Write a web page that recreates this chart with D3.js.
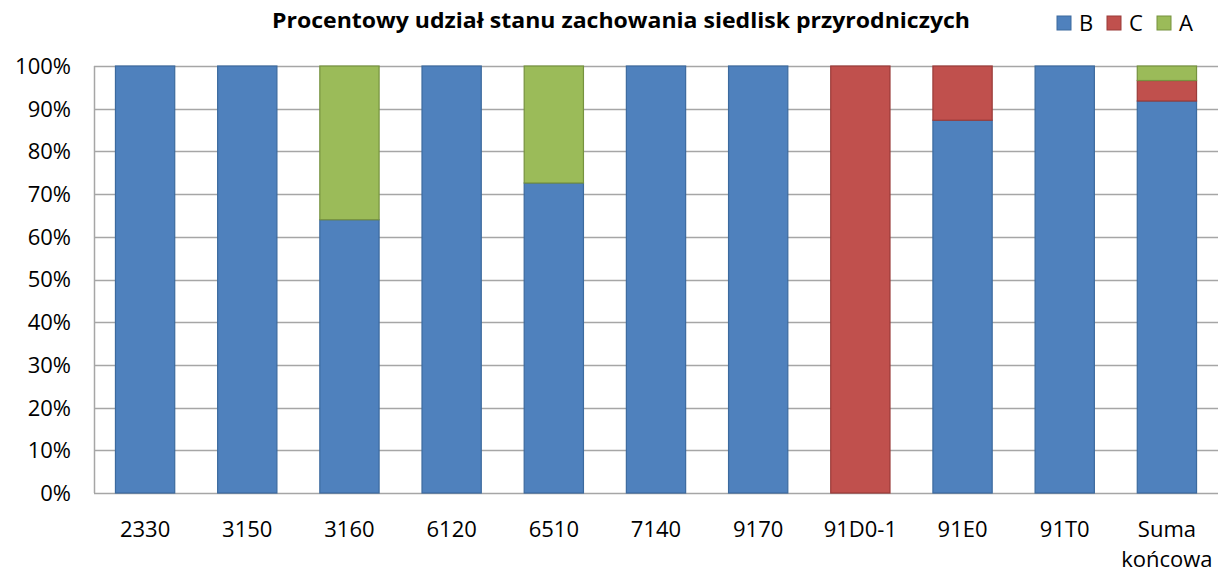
<!DOCTYPE html>
<html>
<head>
<meta charset="utf-8">
<script src="https://cdn.jsdelivr.net/npm/d3@7"></script>
<style>
  body { margin: 0; background: #fff; }
  text { font-family: "Open Sans", "Noto Sans", sans-serif; fill: #000; }
</style>
</head>
<body>
<svg id="chart" width="1220" height="574"></svg>
<script>
// categories and stacked shares (%)
var categories = ["2330", "3150", "3160", "6120", "6510", "7140", "9170", "91D0-1", "91E0", "91T0", "Suma końcowa"];
var seriesB = [100, 100, 64, 100, 72.6, 100, 100, 0, 87.3, 100, 91.8];
var seriesC = [0, 0, 0, 0, 0, 0, 0, 100, 12.7, 0, 4.8];
var seriesA = [0, 0, 36, 0, 27.4, 0, 0, 0, 0, 0, 3.4];
var seriesNames = ["B", "C", "A"];
var yTicks = [0, 10, 20, 30, 40, 50, 60, 70, 80, 90, 100];

var fills = {B: "#4f81bd", C: "#c0504d", A: "#9bbb59"};
var strokes = {B: "#3c6a9e", C: "#9a3b39", A: "#76923f"};

var svg = d3.select("#chart");
var margin = {left: 94, right: 2, top: 66, bottom: 81};
var width = 1220 - margin.left - margin.right;
var height = 574 - margin.top - margin.bottom;

var g = svg.append("g").attr("transform", "translate(" + margin.left + "," + margin.top + ")");

var x = d3.scaleBand().domain(categories).range([0, width]).paddingInner(0.42).paddingOuter(0.21);
var y = d3.scaleLinear().domain([0, 100]).range([height, 0]);

// gridlines
g.selectAll("line.grid")
    .data(yTicks)
    .enter().append("line")
    .attr("class", "grid")
    .attr("x1", 0).attr("x2", width)
    .attr("y1", function (d) { return Math.round(y(d)) + 0.5; })
    .attr("y2", function (d) { return Math.round(y(d)) + 0.5; })
    .attr("stroke", "#a6a6a6").attr("stroke-width", 1.5);

g.append("line")
    .attr("x1", 0.5).attr("x2", 0.5).attr("y1", 0).attr("y2", height)
    .attr("stroke", "#a6a6a6").attr("stroke-width", 1.5);

// stacked data
var rows = categories.map(function (c, i) {
    return {cat: c, B: seriesB[i], C: seriesC[i], A: seriesA[i]};
});
var stacked = d3.stack().keys(seriesNames)(rows);

g.selectAll("g.series")
    .data(stacked)
    .enter().append("g")
    .attr("class", "series")
    .attr("fill", function (d) { return fills[d.key]; })
    .attr("stroke", function (d) { return strokes[d.key]; })
    .selectAll("rect")
    .data(function (d) { return d.filter(function (p) { return p[1] - p[0] > 0; }); })
    .enter().append("rect")
    .attr("x", function (d) { return x(d.data.cat); })
    .attr("width", x.bandwidth())
    .attr("y", function (d) { return y(d[1]); })
    .attr("height", function (d) { return y(d[0]) - y(d[1]); })
    .attr("stroke-width", 1.2);

// y axis labels
g.selectAll("text.ylab")
    .data(yTicks)
    .enter().append("text")
    .attr("class", "ylab")
    .attr("x", -23)
    .attr("y", function (d) { return y(d); })
    .attr("dy", "0.36em")
    .attr("text-anchor", "end")
    .style("font-size", "22px")
    .text(function (d) { return d + "%"; });

// x axis labels
g.selectAll("text.xlab")
    .data(categories)
    .enter().append("text")
    .attr("class", "xlab")
    .attr("text-anchor", "middle")
    .attr("x", function (d) { return x(d) + x.bandwidth() / 2; })
    .attr("y", height + 44)
    .style("font-size", "22px")
    .each(function (d) {
        var parts = d.split(" ");
        var t = d3.select(this);
        parts.forEach(function (p, i) {
            t.append("tspan")
                .attr("x", x(d) + x.bandwidth() / 2)
                .attr("dy", i === 0 ? 0 : 30)
                .text(p);
        });
    });

// title
svg.append("text")
    .attr("x", 621)
    .attr("y", 28)
    .attr("text-anchor", "middle")
    .style("font-size", "22px")
    .style("font-weight", "bold")
    .attr("textLength", 698)
    .attr("lengthAdjust", "spacingAndGlyphs")
    .text("Procentowy udział stanu zachowania siedlisk przyrodniczych");

// legend
var legendX = [1057, 1107, 1157];
var legend = svg.selectAll("g.legend")
    .data(seriesNames)
    .enter().append("g")
    .attr("class", "legend")
    .attr("transform", function (d, i) { return "translate(" + legendX[i] + ",16)"; });
legend.append("rect")
    .attr("width", 14).attr("height", 14)
    .attr("fill", function (d) { return fills[d]; })
    .attr("stroke", function (d) { return strokes[d]; });
legend.append("text")
    .attr("x", 22).attr("y", 7).attr("dy", "0.36em")
    .style("font-size", "22px")
    .text(function (d) { return d; });
</script>
</body>
</html>
